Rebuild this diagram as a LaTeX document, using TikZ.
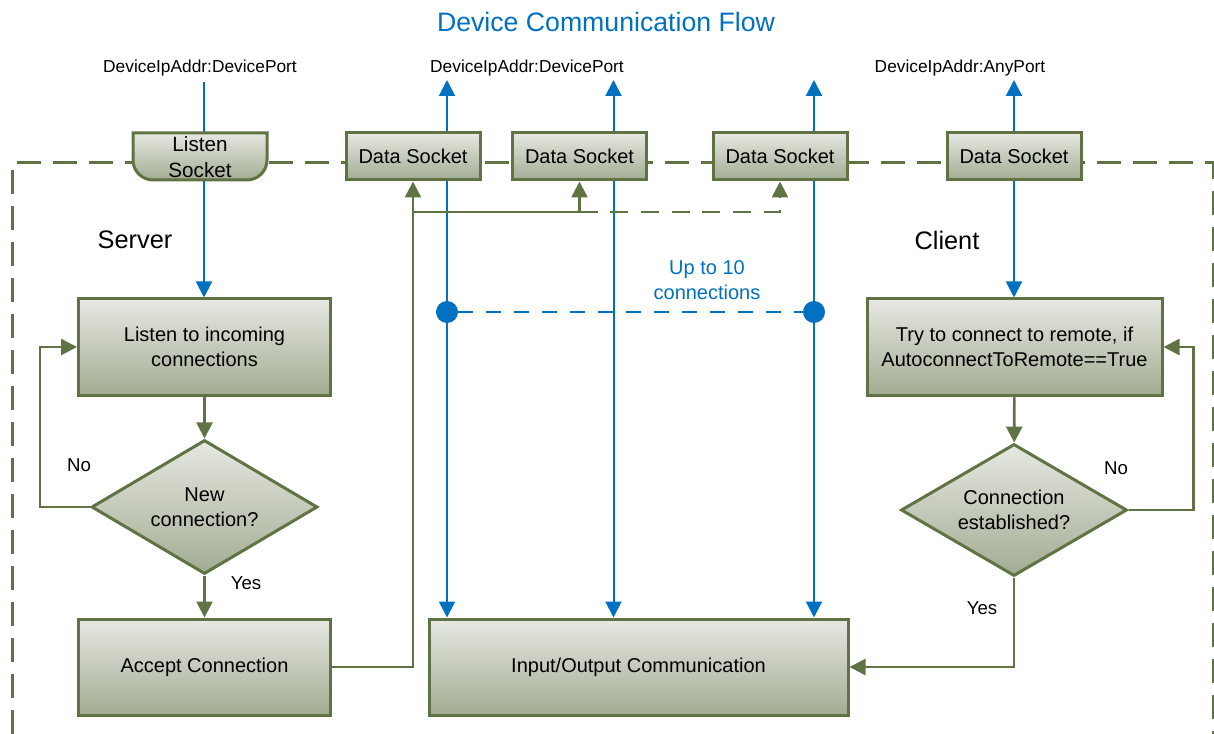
\documentclass[tikz,border=0pt]{standalone}
\usepackage{fontspec}
\setmainfont{Liberation Sans}
\usetikzlibrary{arrows.meta,shapes.geometric,backgrounds}

\definecolor{olivegreen}{RGB}{95,115,68}
\definecolor{flowblue}{RGB}{0,112,192}
\definecolor{boxtop}{RGB}{230,232,226}
\definecolor{boxbot}{RGB}{162,172,146}

\tikzset{every picture/.style={line width=0.75pt}}
\tikzset{
  flowbox/.style={draw=olivegreen, line width=2.25pt, top color=boxtop, bottom color=boxbot,
    align=center, inner sep=0pt, font=\fontsize{15}{19}\selectfont},
  sockbox/.style={flowbox, minimum width=100.5pt, minimum height=35.25pt},
  stepbox/.style={flowbox, minimum width=189pt, minimum height=72pt},
  decision/.style={flowbox, diamond, aspect=1.7},
  flowline/.style={draw=olivegreen, line width=2pt, -{Triangle[length=12pt,width=12pt]}},
  blueline/.style={draw=flowblue, line width=1.5pt},
  bluetip/.style={{Triangle[length=12pt,width=12pt]}-{Triangle[length=12pt,width=12pt]}},
  bdot/.style={circle, fill=flowblue, inner sep=0pt, minimum size=16.5pt},
  lbl/.style={inner sep=0.75pt, font=\fontsize{14}{17}\selectfont},
}

\begin{document}
\begin{tikzpicture}[x=0.75pt,y=0.75pt,yscale=-1,xscale=1]
\useasboundingbox (0,0) rectangle (1214,734);

%Dashed frame
\draw [olivegreen, line width=2.25pt, dash pattern={on 18pt off 9pt}] (12,734) -- (12,163) -- (1213,163) -- (1213,734) ;

%Shape: Listen socket
\draw [draw=olivegreen, line width=2.25pt, top color=boxtop, bottom color=boxbot] (133,133) -- (133,160) .. controls (133,171) and (142,180) .. (153,180) -- (247,180) .. controls (258,180) and (267,171) .. (267,160) -- (267,133) -- cycle ;
\node [align=center, font=\fontsize{15.5}{20}\selectfont, inner sep=0pt] (lsock) at (200,157) {Listen\\Socket};

%Data sockets
\node [sockbox] (ds1) at (413,156.5) {Data Socket};
\node [sockbox] (ds2) at (579.5,156.5) {Data Socket};
\node [sockbox] (ds3) at (780,156.5) {Data Socket};
\node [sockbox] (ds4) at (1014,156.5) {Data Socket};

%Server side
\node [stepbox] (listen) at (204.5,347) {Listen to incoming\\connections};
\node [decision, minimum width=169.5pt, minimum height=100.5pt] (newc) at (204.5,507) {New\\connection?};
\node [stepbox] (accept) at (204.5,667) {Accept Connection};

%Client side
\node [stepbox, minimum width=221.25pt] (try) at (1014.5,347) {Try to connect to remote, if\\AutoconnectToRemote==True};
\node [decision, minimum width=169.5pt, minimum height=99pt] (estab) at (1014,510) {Connection\\established?};

%Common
\node [stepbox, minimum width=314.25pt] (io) at (638.5,667) {Input/Output Communication};

%Blue socket lines
\coordinate (lin) at (204,82);
\coordinate (up1) at (447,80);
\coordinate (up2) at (613.5,80);
\coordinate (up3) at (814,80);
\coordinate (up4) at (1014,80);
\begin{pgfonlayer}{background}
\draw [blueline, -{Triangle[length=12pt,width=12pt]}] (lin) -- (lin |- listen.north) ;
\draw [blueline, bluetip] (up1) -- (up1 |- io.north) ;
\draw [blueline, bluetip] (up2) -- (up2 |- io.north) ;
\draw [blueline, bluetip] (up3) -- (up3 |- io.north) ;
\draw [blueline, bluetip] (up4) -- (up4 |- try.north) ;
\end{pgfonlayer}
\node [bdot] (dotl) at (447,312) {};
\node [bdot] (dotr) at (814,312) {};
\draw [blueline, dash pattern={on 11pt off 10pt}] (dotl) -- (dotr) ;

%Green flow lines
\draw [flowline] (listen) -- (newc) ;
\draw [flowline] (newc.west) -- ++(-50,0) |- (listen.west) ;
\draw [flowline] (newc) -- (accept) ;
\draw [flowline] (accept.east) -| (ds1.south) ;
\coordinate (fork) at (413,212);
\draw [flowline] (fork) -| (ds2.south) ;
\draw [flowline, dash pattern={on 13.5pt off 9.5pt}] (ds2.south |- fork) -| (ds3.south) ;
\draw [flowline] (try) -- (estab) ;
\draw [flowline] (estab.east) -- ++(65,0) |- (try.east) ;
\draw [flowline] (estab.south) |- (io.east) ;

% Text Node
\node [text=flowblue, font=\fontsize{20}{24}\selectfont] (title) at (606,22) {Device Communication Flow};
% Text Node
\node [lbl, font=\fontsize{13}{16}\selectfont] (addr1) at (200,68) {DeviceIpAddr:DevicePort};
% Text Node
\node [lbl, font=\fontsize{13}{16}\selectfont] (addr2) at (527,68) {DeviceIpAddr:DevicePort};
% Text Node
\node [lbl, font=\fontsize{13}{16}\selectfont] (addr3) at (960,68) {DeviceIpAddr:AnyPort};
% Text Node
\node [lbl, font=\fontsize{19}{23}\selectfont] (server) at (135,240) {Server};
% Text Node
\node [lbl, font=\fontsize{19}{23}\selectfont] (client) at (947,240) {Client};
% Text Node
\node [lbl, text=flowblue, align=center, font=\fontsize{15}{19}\selectfont] (upto) at (707,280) {Up to 10\\connections};
% Text Node
\node [lbl] (no1) at (79,465) {No};
% Text Node
\node [lbl] (yes1) at (246,583) {Yes};
% Text Node
\node [lbl] (no2) at (1116,468) {No};
% Text Node
\node [lbl] (yes2) at (982,608) {Yes};

\end{tikzpicture}
\end{document}
